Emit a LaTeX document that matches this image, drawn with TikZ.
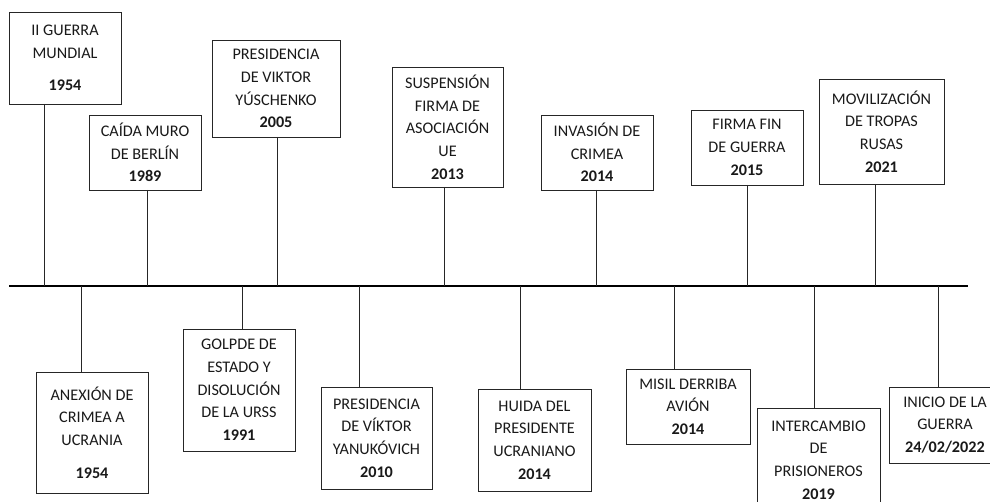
\documentclass[tikz,border=0pt]{standalone}
\usepackage{fontspec}
\setmainfont{Carlito}
\begin{document}
\begin{tikzpicture}[x=1pt,y=-1pt,
    event/.style = {rectangle,draw=black!85,line width=0.9pt,align=center,inner sep=2pt,outer sep=0mm,
                    text=black!90,font={\fontsize{16.2}{22.7}\selectfont}},
    stem/.style  = {draw=black!85,line width=0.8pt}]
\useasboundingbox (0,0) rectangle (990,502);
\draw[line width=1.7pt] (9,286) coordinate (axisL) -- (968,286) coordinate (axisR);
% events above the axis
\foreach \cx/\cy/\w/\h/\sx/\txt [count=\j] in {
    65/58/112/92/44/{II GUERRA\\MUNDIAL\\[10pt]\textbf{1954}},
    145/152.5/112/75/147/{CAÍDA MURO\\DE BERLÍN\\\textbf{1989}},
    276/88.5/128/97/277/{PRESIDENCIA\\DE VIKTOR\\YÚSCHENKO\\\textbf{2005}},
    447.5/127/111/120/444/{SUSPENSIÓN\\FIRMA DE\\ASOCIACIÓN\\UE\\\textbf{2013}},
    597/152.5/112/75/596/{INVASIÓN DE\\CRIMEA\\\textbf{2014}},
    747/147.5/112/75/747/{FIRMA FIN\\DE GUERRA\\\textbf{2015}},
    881.5/131.5/125/105/875/{MOVILIZACIÓN\\DE TROPAS\\RUSAS\\\textbf{2021}}}
{
    \node[event,minimum width=\w pt,minimum height=\h pt] (up\j) at (\cx,\cy) {\txt};
    \coordinate (upt\j) at (\sx,286);
    \draw[stem] (up\j.south -| upt\j) -- (upt\j);
}
% events below the axis
\foreach \cx/\cy/\w/\h/\sx/\txt [count=\j] in {
    92/432.5/112/121/81/{ANEXIÓN DE\\CRIMEA A\\UCRANIA\\[10pt]\textbf{1954}},
    239/390/112/122/242/{GOLPDE DE\\ESTADO Y\\DISOLUCIÓN\\DE LA URSS\\\textbf{1991}},
    376.5/438/111/102/359/{PRESIDENCIA\\DE VÍKTOR\\YANUKÓVICH\\\textbf{2010}},
    534.5/440/113/102/520/{HUIDA DEL\\PRESIDENTE\\UCRANIANO\\\textbf{2014}},
    688/406.5/124/75/674/{MISIL DERRIBA\\AVIÓN\\\textbf{2014}},
    818.5/460/123/104/814/{INTERCAMBIO\\DE\\PRISIONEROS\\\textbf{2019}},
    945/425/112/76/938/{INICIO DE LA\\GUERRA\\\textbf{24/02/2022}}}
{
    \node[event,minimum width=\w pt,minimum height=\h pt] (dn\j) at (\cx,\cy) {\txt};
    \coordinate (dnt\j) at (\sx,286);
    \draw[stem] (dnt\j) -- (dn\j.north -| dnt\j);
}
\end{tikzpicture}
\end{document}
